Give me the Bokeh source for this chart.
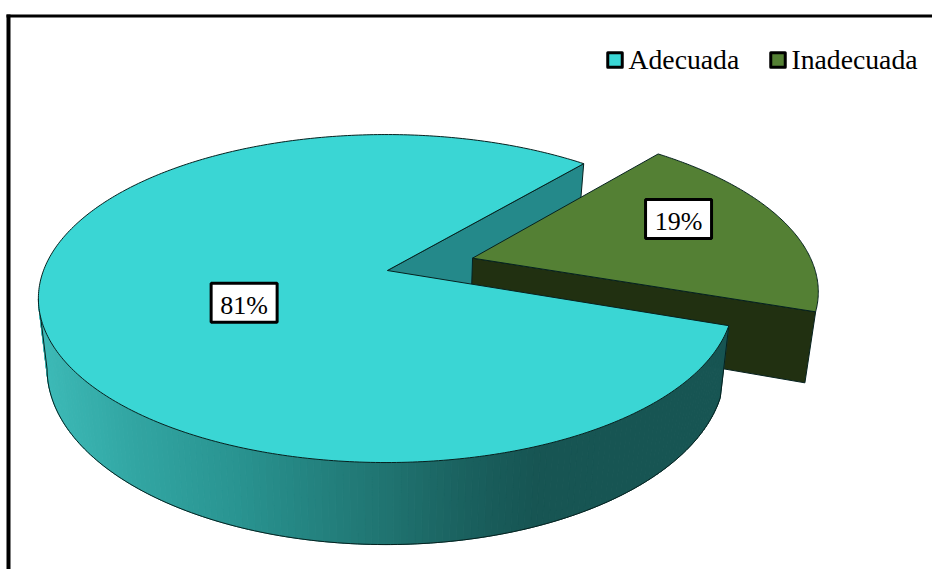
import numpy as np
from bokeh.core.properties import value
from bokeh.embed import file_html
from bokeh.models import Range1d
from bokeh.plotting import figure
from bokeh.resources import INLINE

# Survey result
categories = ["Adecuada", "Inadecuada"]
shares = [81, 19]
labels = ["81%", "19%"]

# Colours
TEAL_TOP = "#3ad6d4"
TEAL_CUT = "#24898a"
GREEN_TOP = "#548034"
GREEN_CUT = "#213011"
EDGE = "#06211f"
SERIF = value("Liberation Serif")

# Perspective of the disc: screen position of its centre, half axes, foreshortening
CX, CY, RX, RY, K = 385.5, 270.0, 342.5, 159.2, 0.171
APEX_U = 0.004         # slices meet slightly right of the disc's centre
DEPTH, SHRINK = 68.0, 0.975
START_ANGLE = 40.7     # clockwise from the far side of the disc, in degrees
EXPLODE = 0.256        # pull of the small slice, in disc radii
EXPLODE_LIFT = 0.012   # the small slice also sits a little further back
EXPLODE_SIDE = 0.009   # and slightly further to the right


def disc_to_screen(u, v, lower=False):
    """Project disc coordinates to the page, on the top or the bottom face."""
    u, v = np.asarray(u, float), np.asarray(v, float)
    w = 1 + K * v
    x = RX * u / w
    y = CY - RY * v / w
    if lower:
        return CX + SHRINK * x, y + DEPTH / w
    return CX + x, y


def rim(a0, a1, n=160):
    a = np.radians(np.linspace(a0, a1, n))
    return np.sin(a), np.cos(a)


p = figure(width=932, height=569, output_backend="svg", toolbar_location=None,
           x_range=Range1d(0, 932), y_range=Range1d(569, 0),
           min_border=0, outline_line_color=None, background_fill_color="white")
p.axis.visible = False
p.grid.visible = False

# Chart frame: only its top and left sides fall inside the page
p.quad(left=[6], right=[932], top=[14], bottom=[17], color="black", line_width=0)
p.quad(left=[6], right=[10], top=[14], bottom=[569], color="black", line_width=0)

# Slice angles follow from the shares
total = sum(shares)
small_span = 360 * shares[1] / total
small_a0, small_a1 = START_ANGLE, START_ANGLE + small_span
big_a0, big_a1 = small_a1, START_ANGLE + 360

# Cut face of the large slice, seen through the opening
u1, v1 = np.sin(np.radians(big_a1)), np.cos(np.radians(big_a1))
xt, yt = disc_to_screen([APEX_U, u1], [0, v1])
xb, yb = disc_to_screen([u1, APEX_U], [v1, 0], lower=True)
p.patch(np.r_[xt, xb], np.r_[yt, yb], fill_color=TEAL_CUT,
        line_color=EDGE, line_width=1)

# Pulled-out small slice
mid = np.radians((small_a0 + small_a1) / 2)
ou = EXPLODE * np.sin(mid) + EXPLODE_SIDE
ov = EXPLODE * np.cos(mid) + EXPLODE_LIFT
su, sv = rim(small_a0, small_a1)
su, sv = su + ou, sv + ov

e_u, e_v = np.array([ou, su[-1]]), np.array([ov, sv[-1]])
xt, yt = disc_to_screen(e_u, e_v)
xb, yb = disc_to_screen(e_u[::-1], e_v[::-1], lower=True)
p.patch(np.r_[xt, xb], np.r_[yt, yb], fill_color=GREEN_CUT,
        line_color=EDGE, line_width=1)

xt, yt = disc_to_screen(np.r_[ou, su], np.r_[ov, sv])
p.patch(xt, yt, fill_color=GREEN_TOP, line_color=EDGE, line_width=1)

# Curved wall of the large slice, shaded from left to right in narrow bands
shade_x = [45, 130, 230, 300, 390, 470, 540, 730]
shade_r = [0x3c, 0x32, 0x2a, 0x25, 0x20, 0x1a, 0x17, 0x17]
shade_g = [0xb9, 0xa6, 0x95, 0x86, 0x73, 0x60, 0x55, 0x55]
shade_b = [0xb6, 0xa3, 0x92, 0x83, 0x70, 0x5e, 0x53, 0x53]

silhouette = 260.0
edges = np.linspace(big_a0, silhouette, 150)
for a0, a1 in zip(edges[:-1], edges[1:]):
    bu, bv = rim(a0, a1, 4)
    xt, yt = disc_to_screen(bu, bv)
    xb, yb = disc_to_screen(bu[::-1], bv[::-1], lower=True)
    xm = float(np.mean(xt))
    c = "#%02x%02x%02x" % (int(np.interp(xm, shade_x, shade_r)),
                           int(np.interp(xm, shade_x, shade_g)),
                           int(np.interp(xm, shade_x, shade_b)))
    p.patch(np.r_[xt, xb], np.r_[yt, yb], fill_color=c, line_color=c, line_width=1)

wu, wv = rim(big_a0, silhouette)
xt, yt = disc_to_screen(wu, wv)
xb, yb = disc_to_screen(wu, wv, lower=True)
p.line(np.r_[xt[0], xb, xt[-1]], np.r_[yt[0], yb, yt[-1]], line_color=EDGE, line_width=1)

# Top face of the large slice
bu, bv = rim(big_a0, big_a1, 400)
xt, yt = disc_to_screen(np.r_[APEX_U, bu], np.r_[0, bv])
p.patch(xt, yt, fill_color=TEAL_TOP, line_color=EDGE, line_width=1)

# Value labels, placed by angle and radius on each slice
label_polar = [(244.0, 0.447, 0.0, 0.0), (67.2, 0.711, ou - EXPLODE_SIDE, ov - EXPLODE_LIFT)]
for text, (ang, rad, du, dv) in zip(labels, label_polar):
    a = np.radians(ang)
    lx, ly = disc_to_screen(rad * np.sin(a) + du, rad * np.cos(a) + dv)
    p.rect([float(lx) + 0.5], [float(ly)], width=66, height=39, fill_color="white",
           line_color="black", line_width=3)
    p.text([float(lx) + 0.5], [float(ly) + 2.5], text=[text], text_font=SERIF,
           text_font_size="26px", text_align="center", text_baseline="middle",
           text_color="black")

# Legend
legend_x = [606, 769]
legend_colors = [TEAL_TOP, GREEN_TOP]
for name, x0, col in zip(categories, legend_x, legend_colors):
    p.rect([x0 + 8.5], [59.5], width=14.5, height=14.5, fill_color=col,
           line_color="black", line_width=3, line_join="round")
    p.text([x0 + 22], [58.5], text=[name], text_font=SERIF, text_font_size="27.7px",
           text_align="left", text_baseline="middle", text_color="black")

open("out.html", "w").write(file_html(p, INLINE))
